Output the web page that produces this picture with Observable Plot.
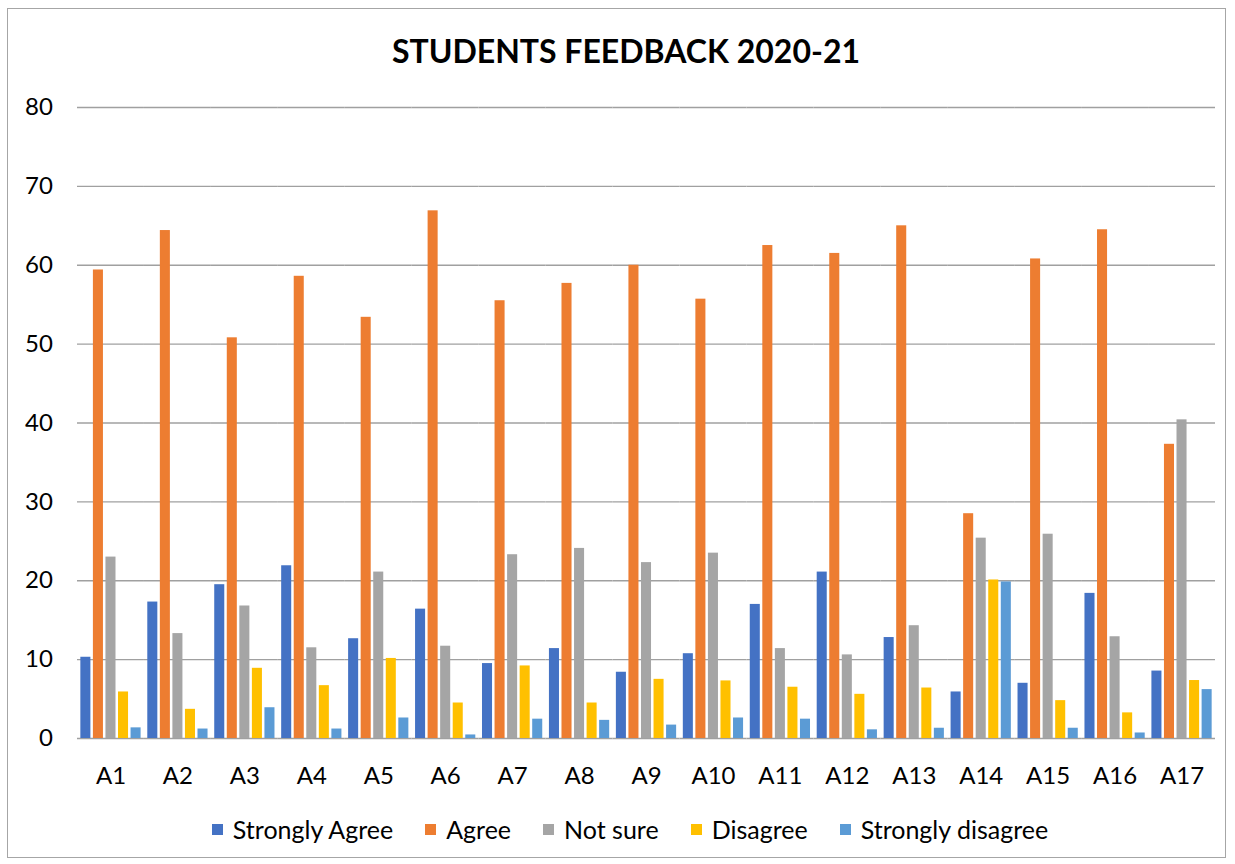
<!DOCTYPE html>
<html>
<head>
<meta charset="utf-8">
<script src="https://cdn.jsdelivr.net/npm/d3@7"></script>
<script src="https://cdn.jsdelivr.net/npm/@observablehq/plot@0.6"></script>
<style>
  html, body { margin: 0; padding: 0; background: #fff; }
  body { width: 1235px; height: 864px; position: relative; overflow: hidden; font-family: Lato, "Open Sans", sans-serif; }
  #frame { position: absolute; left: 7px; top: 8px; width: 1219px; height: 850px; border: 1px solid #a6a6a6; box-sizing: border-box; }
  #title { position: absolute; left: 0; width: 1252px; top: 35px; text-align: center; font-weight: 700; font-size: 32px; line-height: 32px; color: #000; }
  #chart { position: absolute; left: 0; top: 0; }
  #legend { position: absolute; left: 0; width: 1260px; top: 815px; height: 28px; display: flex; justify-content: center; align-items: center; font-size: 25px; line-height: 28px; color: #000; }
  .item { display: flex; align-items: center; margin: 0 16px; }
  .sw { width: 11px; height: 11px; margin-right: 10px; }
</style>
</head>
<body>
<div id="frame"></div>
<div id="title">STUDENTS FEEDBACK 2020-21</div>
<div id="chart"></div>
<div id="legend"></div>
<script>
const categories = ["A1","A2","A3","A4","A5","A6","A7","A8","A9","A10","A11","A12","A13","A14","A15","A16","A17"];
const seriesNames = ["Strongly Agree","Agree","Not sure","Disagree","Strongly disagree"];
const seriesColors = ["#4472C4","#ED7D31","#A5A5A5","#FFC000","#5B9BD5"];
const stronglyAgree = [10.3, 17.3, 19.5, 21.9, 12.65, 16.4, 9.5, 11.4, 8.4, 10.75, 17.0, 21.1, 12.8, 5.9, 7.0, 18.4, 8.55];
const agree = [59.4, 64.4, 50.8, 58.6, 53.4, 66.9, 55.5, 57.7, 60.0, 55.7, 62.5, 61.5, 65.0, 28.5, 60.8, 64.5, 37.3];
const notSure = [23.0, 13.3, 16.8, 11.5, 21.1, 11.7, 23.3, 24.1, 22.3, 23.5, 11.4, 10.6, 14.3, 25.4, 25.9, 12.9, 40.4];
const disagree = [5.9, 3.7, 8.9, 6.7, 10.15, 4.5, 9.2, 4.5, 7.5, 7.3, 6.5, 5.6, 6.4, 20.1, 4.8, 3.25, 7.35];
const stronglyDisagree = [1.35, 1.2, 3.9, 1.2, 2.6, 0.45, 2.45, 2.3, 1.7, 2.6, 2.45, 1.1, 1.3, 19.85, 1.3, 0.7, 6.2];
const yTicks = [0, 10, 20, 30, 40, 50, 60, 70, 80];

const seriesValues = [stronglyAgree, agree, notSure, disagree, stronglyDisagree];
const rows = [];
categories.forEach((c, i) => {
  seriesNames.forEach((s, j) => rows.push({cat: c, series: s, value: seriesValues[j][i]}));
});

const W = 1235, H = 800, ml = 77, mr = 20, mt = 107, mb = 62;
const step = (W - ml - mr) / categories.length;
const ext = step * 0.05;

const chart = Plot.plot({
  width: W, height: H,
  marginLeft: ml, marginRight: mr, marginTop: mt, marginBottom: mb,
  style: {fontFamily: "Lato, 'Open Sans', sans-serif", fontSize: "24px", color: "#000", background: "transparent", overflow: "visible"},
  fx: {domain: categories, paddingInner: 0.1, paddingOuter: 0.05, round: false, label: null, axis: "bottom", tickSize: 0, tickPadding: 28},
  x: {domain: seriesNames, paddingInner: 0.2, paddingOuter: 0, round: false, axis: null},
  y: {domain: [0, 80], ticks: yTicks, tickSize: 0, tickPadding: 28, label: null},
  color: {domain: seriesNames, range: seriesColors},
  marks: [
    Plot.ruleY(yTicks, {stroke: "#a0a0a0", strokeWidth: 1.4, insetLeft: -ext, insetRight: -ext}),
    Plot.barY(rows, {fx: "cat", x: "series", y: "value", fill: "series"})
  ]
});
document.getElementById("chart").appendChild(chart);

const legend = document.getElementById("legend");
seriesNames.forEach((s, j) => {
  const it = document.createElement("div");
  it.className = "item";
  const sw = document.createElement("span");
  sw.className = "sw";
  sw.style.background = seriesColors[j];
  const t = document.createElement("span");
  t.textContent = s;
  it.appendChild(sw); it.appendChild(t);
  legend.appendChild(it);
});
</script>
</body>
</html>
